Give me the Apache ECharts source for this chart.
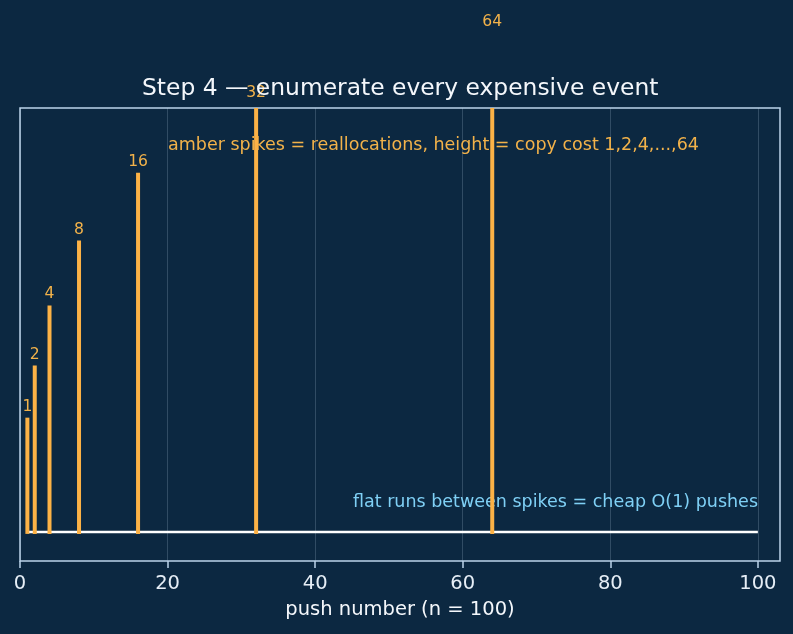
<!DOCTYPE html>
<html>
<head>
<meta charset="utf-8">
<title>Step 4 — enumerate every expensive event</title>
<script src="https://cdn.jsdelivr.net/npm/echarts@6/dist/echarts.min.js"></script>
<style>
  html, body { margin: 0; padding: 0; background: #0c2841; }
  #expensive-events { width: 793px; height: 634px; }
</style>
</head>
<body>
<div id="expensive-events"></div>
<script>
// pushes that hit a full array and trigger a reallocation
const spikePushes = [1, 2, 4, 8, 16, 32, 64];
// elements copied by each reallocation
const copyCosts = [1, 2, 4, 8, 16, 32, 64];
const totalPushes = 100;
// cheap pushes copy nothing: flat run from first to last push
const flatRun = [[1, 0], [totalPushes, 0]];
const xTicks = [0, 20, 40, 60, 80, 100];

// log2 axis with a floor, so a zero copy cost still sits on the axis
const FLOOR = 0.5;
const toAxis = function (c) { return c + FLOOR; };

const BG = '#0c2841';
const AMBER = '#fcb246';
const AMBER_TEXT = '#f2b24a';
const SKY = '#7fd0f5';
const SPINE = '#bcd4ea';
const FONT = '"DejaVu Sans", "Liberation Sans", sans-serif';

const chartDom = document.getElementById('expensive-events');
const myChart = echarts.init(chartDom, null, { renderer: 'canvas' });

const option = {
  backgroundColor: BG,
  animation: false,
  textStyle: { fontFamily: FONT },
  title: {
    text: 'Step 4 — enumerate every expensive event',
    left: 142,
    top: 77,
    padding: 0,
    textStyle: { color: '#f4f7fb', fontSize: 23.4, fontWeight: 'normal', fontFamily: FONT }
  },
  grid: {
    left: 20,
    right: 13,
    top: 108,
    bottom: 73,
    show: true,
    borderColor: SPINE,
    borderWidth: 1.5,
    backgroundColor: 'transparent'
  },
  xAxis: {
    type: 'value',
    min: 0,
    max: 103,
    interval: 20,
    name: 'push number (n = 100)',
    nameLocation: 'middle',
    nameGap: 38.5,
    nameTextStyle: { color: '#f4f7fb', fontSize: 19.5, fontFamily: FONT },
    axisLine: { show: false },
    axisTick: {
      show: true,
      length: 7,
      customValues: xTicks,
      lineStyle: { color: SPINE, width: 1.5 }
    },
    axisLabel: {
      color: '#e6eef6',
      fontSize: 19.5,
      margin: 13,
      customValues: xTicks,
      fontFamily: FONT
    },
    splitLine: {
      show: true,
      lineStyle: { color: 'rgba(200,220,240,0.2)', width: 1 }
    }
  },
  yAxis: {
    type: 'log',
    logBase: 2,
    min: 0.376,
    max: 31.7,
    show: false,
    splitLine: { show: false }
  },
  graphic: [
    {
      type: 'text',
      z: 1,
      x: 168,
      y: 145,
      style: {
        text: 'amber spikes = reallocations, height = copy cost 1,2,4,...,64',
        fill: AMBER_TEXT,
        font: '17.5px ' + FONT,
        align: 'left',
        verticalAlign: 'middle'
      }
    },
    {
      type: 'text',
      z: 1,
      x: 758,
      y: 502,
      style: {
        text: 'flat runs between spikes = cheap O(1) pushes',
        fill: SKY,
        font: '17.5px ' + FONT,
        align: 'right',
        verticalAlign: 'middle'
      }
    }
  ],
  series: [
    {
      name: 'cheap pushes',
      type: 'line',
      z: 2,
      symbol: 'none',
      silent: true,
      lineStyle: { color: '#ffffff', width: 2.5 },
      data: flatRun.map(function (p) { return [p[0], toAxis(p[1])]; })
    },
    {
      name: 'reallocations',
      type: 'custom',
      z: 3,
      clip: false,
      data: spikePushes.map(function (x, i) {
        return [x, toAxis(copyCosts[i]), copyCosts[i]];
      }),
      renderItem: function (params, api) {
        const x = api.value(0);
        const base = api.coord([x, toAxis(0)]);
        const top = api.coord([x, api.value(1)]);
        const plotTop = params.coordSys.y;
        return {
          type: 'group',
          children: [
            {
              type: 'line',
              shape: { x1: base[0], y1: base[1], x2: top[0], y2: Math.max(top[1], plotTop + 2) },
              style: { stroke: AMBER, lineWidth: 4, lineCap: 'square' }
            },
            {
              type: 'text',
              x: top[0],
              y: top[1] - 5,
              style: {
                text: String(api.value(2)),
                fill: AMBER_TEXT,
                font: '15.6px ' + FONT,
                align: 'center',
                verticalAlign: 'bottom'
              }
            }
          ]
        };
      }
    }
  ]
};

option && myChart.setOption(option);
window.addEventListener('resize', function () {
  myChart.resize();
});
</script>
</body>
</html>
